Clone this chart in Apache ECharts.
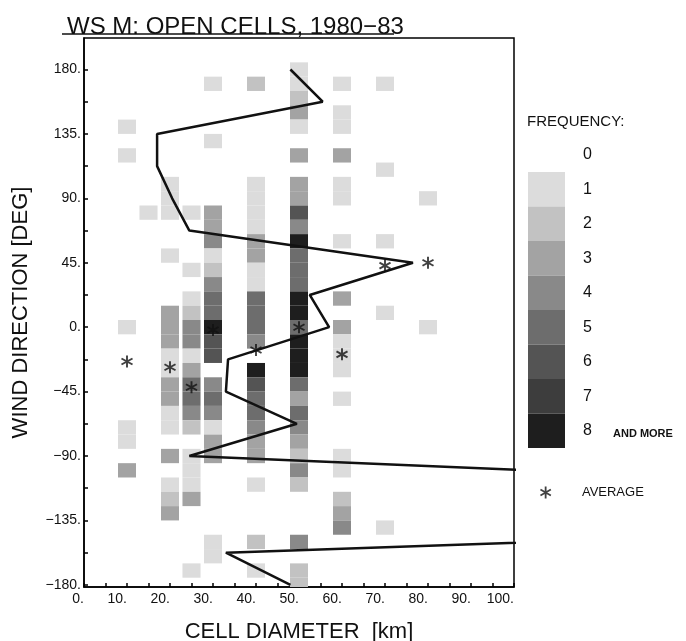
<!DOCTYPE html>
<html>
<head>
<meta charset="utf-8">
<script src="https://cdn.jsdelivr.net/npm/echarts@6/dist/echarts.min.js"></script>
<style>html,body{margin:0;padding:0;background:#fff;}#c{width:686px;height:641px;}</style>
</head>
<body>
<div id="c"></div>
<script>
// ---- tick values / labels ----
const xLabelValues = [0, 10, 20, 30, 40, 50, 60, 70, 80, 90, 100];
const xTickValues = [0, 5, 10, 15, 20, 25, 30, 35, 40, 45, 50, 55, 60, 65, 70, 75, 80, 85, 90, 95, 100];
const yLabelValues = [-180, -135, -90, -45, 0, 45, 90, 135, 180];
const yTickValues = [-180, -157.5, -135, -112.5, -90, -67.5, -45, -22.5, 0, 22.5, 45, 67.5, 90, 112.5, 135, 157.5, 180];

// ---- frequency cells: [wind direction bin, frequency] per cell diameter column ----
const cells10 = [[140,1],[120,1],[0,1],[-70,1],[-80,1],[-100,3]];
const cells15 = [[80,1]];
const cells20 = [[100,1],[90,1],[80,1],[50,1],[10,3],[0,3],[-10,3],[-20,1],[-30,1],[-40,3],[-50,3],[-60,1],[-70,1],[-90,3],[-110,1],[-120,2],[-130,3]];
const cells25 = [[80,1],[40,1],[20,1],[10,2],[0,4],[-10,4],[-20,1],[-30,3],[-40,5],[-50,5],[-60,4],[-70,2],[-90,1],[-100,1],[-110,1],[-120,3],[-170,1]];
const cells30 = [[170,1],[130,1],[80,3],[70,3],[60,4],[50,1],[40,2],[30,4],[20,5],[10,5],[0,8],[-10,6],[-20,6],[-40,4],[-50,5],[-60,4],[-70,1],[-80,3],[-90,3],[-150,1],[-160,1]];
const cells40 = [[170,2],[100,1],[90,1],[80,1],[70,1],[60,3],[50,3],[40,1],[30,1],[20,5],[10,5],[0,5],[-10,4],[-30,8],[-40,6],[-50,5],[-60,5],[-70,4],[-80,3],[-90,3],[-110,1],[-150,2],[-170,1]];
const cells50 = [[180,1],[170,1],[160,2],[150,3],[140,1],[120,3],[100,3],[90,3],[80,6],[70,4],[60,8],[50,5],[40,5],[30,5],[20,8],[10,8],[0,5],[-10,8],[-20,8],[-30,8],[-40,5],[-50,3],[-60,5],[-70,4],[-80,3],[-90,2],[-100,4],[-110,2],[-150,4],[-170,2],[-180,2]];
const cells60 = [[170,1],[150,1],[140,1],[120,3],[100,1],[90,1],[60,1],[20,3],[0,3],[-10,1],[-20,1],[-30,1],[-50,1],[-90,1],[-100,1],[-120,2],[-130,3],[-140,4]];
const cells70 = [[170,1],[110,1],[60,1],[10,1],[-140,1]];
const cells80 = [[90,1],[0,1]];
const cellColumns = [[10, cells10],[15, cells15],[20, cells20],[25, cells25],[30, cells30],[40, cells40],[50, cells50],[60, cells60],[70, cells70],[80, cells80]];

// ---- average wind direction per cell diameter (asterisks) ----
const avgDiameter = [10, 20, 25, 30, 40, 50, 60, 70, 80];
const avgDirection = [-24, -28, -42, -2, -16, 0, -19, 43, 45];

// ---- average cell diameter per wind direction sector (line) ----
const lineDirection = [180, 157.5, 135, 112.5, 90, 67.5, 45, 22.5, 0, -22.5, -45, -67.5, -90, -112.5, -135, -157.5, -180];
const lineDiameter = [48, 55.5, 17, 17, 20.5, 24.5, 76.5, 52.5, 57, 33.5, 33, 49.5, 24.5, 204, 254, 33, 48];

// ---- frequency legend ----
const freqLevels = [1, 2, 3, 4, 5, 6, 7, 8];
const freqColors = ['#dcdcdc', '#c2c2c2', '#a3a3a3', '#898989', '#6d6d6d', '#545454', '#3d3d3d', '#1e1e1e'];

const cellData = [];
cellColumns.forEach(([d, list]) => list.forEach(([dir, f]) => cellData.push([d, dir, f])));
const avgData = avgDiameter.map((d, i) => [d, avgDirection[i]]);
const lineData = lineDirection.map((dir, i) => [lineDiameter[i], dir]);

const STAR = 'path://M-1.5,-10 L-1.5,10 L1.5,10 L1.5,-10 Z M-9.41,-3.70 L7.91,6.30 L9.41,3.70 L-7.91,-6.30 Z M-9.41,3.70 L-7.91,6.30 L9.41,-3.70 L7.91,-6.30 Z';
const FONT = 'Liberation Sans';
const fmtY = v => (v < 0 ? '\u2212' + (-v) : String(v)) + '.';

const chart = echarts.init(document.getElementById('c'), null, {renderer: 'canvas'});
chart.setOption({
  animation: false,
  backgroundColor: '#fff',
  textStyle: {fontFamily: FONT, color: '#000'},
  title: {
    text: 'WS M: OPEN CELLS, 1980\u221283',
    left: 62, top: 10,
    textStyle: {fontFamily: FONT, fontSize: 24, fontWeight: 'normal', color: '#111'}
  },
  grid: {left: 84, right: 172, top: 38, bottom: 54, containLabel: false, outerBoundsMode: 'none',
         show: true, borderColor: '#000', borderWidth: 1.5, backgroundColor: 'transparent'},
  xAxis: {
    type: 'value', min: 0, max: 100,
    name: 'CELL DIAMETER  [km]', nameLocation: 'middle', nameGap: 34,
    nameTextStyle: {fontFamily: FONT, fontSize: 22, color: '#111'},
    axisLine: {onZero: false, lineStyle: {color: '#000', width: 1.5}},
    axisTick: {inside: true, length: 4, customValues: xTickValues, lineStyle: {color: '#000', width: 1.5}},
    axisLabel: {customValues: xLabelValues, formatter: v => v + '.', align: 'right', margin: 5, fontSize: 14, color: '#111', fontFamily: FONT},
    splitLine: {show: false}
  },
  yAxis: {
    type: 'value', min: -181.5, max: 202,
    name: 'WIND DIRECTION [DEG]', nameLocation: 'middle', nameGap: 52, nameRotate: 90,
    nameTextStyle: {fontFamily: FONT, fontSize: 22, color: '#111'},
    axisLine: {onZero: false, lineStyle: {color: '#000', width: 1.5}},
    axisTick: {inside: true, length: 4, customValues: yTickValues, lineStyle: {color: '#000', width: 1.5}},
    axisLabel: {customValues: yLabelValues, formatter: fmtY, margin: 3, fontSize: 14, color: '#111', fontFamily: FONT},
    splitLine: {show: false}
  },
  visualMap: {
    type: 'piecewise', seriesIndex: 0, dimension: 2,
    orient: 'vertical', inverse: true, align: 'left', padding: 0,
    left: 528, top: 172,
    itemWidth: 37, itemHeight: 34.5, itemGap: 0, itemSymbol: 'rect',
    textGap: 18, selectedMode: false, hoverLink: false, showLabel: true,
    textStyle: {fontFamily: FONT, fontSize: 16, color: '#111'},
    pieces: freqLevels.map((v, i) => ({value: v, label: String(v), color: freqColors[i]}))
  },
  legend: {
    data: ['AVERAGE'], left: 540, top: 486, icon: STAR, itemWidth: 12, itemHeight: 12,
    selectedMode: false, formatter: n => '       ' + n, padding: 0,
    textStyle: {fontFamily: FONT, fontSize: 13, color: '#111'}
  },
  graphic: [
    {type: 'line', shape: {x1: 62, y1: 34, x2: 394, y2: 34}, style: {stroke: '#111', lineWidth: 1.5}},
    {type: 'text', left: 527, top: 114, style: {text: 'FREQUENCY:', font: '15px "Liberation Sans"', fill: '#111'}},
    {type: 'text', left: 583, top: 147, style: {text: '0', font: '16px "Liberation Sans"', fill: '#111'}},
    {type: 'text', left: 613, top: 428, style: {text: 'AND MORE', font: 'bold 11px "Liberation Sans"', fill: '#111'}}
  ],
  series: [
    {
      type: 'custom', name: 'FREQUENCY', data: cellData, clip: true,
      encode: {x: 0, y: 1},
      renderItem: function (params, api) {
        const x = api.value(0), y = api.value(1);
        const p0 = api.coord([x - 2.1, y + 5]);
        const p1 = api.coord([x + 2.1, y - 5]);
        return {type: 'rect', shape: {x: p0[0], y: p0[1], width: p1[0] - p0[0], height: p1[1] - p0[1]}, style: {fill: api.visual('color')}};
      },
      z: 1
    },
    {
      type: 'line', name: 'SECTOR MEAN', data: lineData, showSymbol: false, clip: true,
      lineStyle: {color: '#111', width: 2.5}, z: 3
    },
    {
      type: 'scatter', name: 'AVERAGE', data: avgData, symbol: STAR, symbolSize: 12,
      itemStyle: {color: '#111'}, z: 4
    }
  ]
});
</script>
</body>
</html>
